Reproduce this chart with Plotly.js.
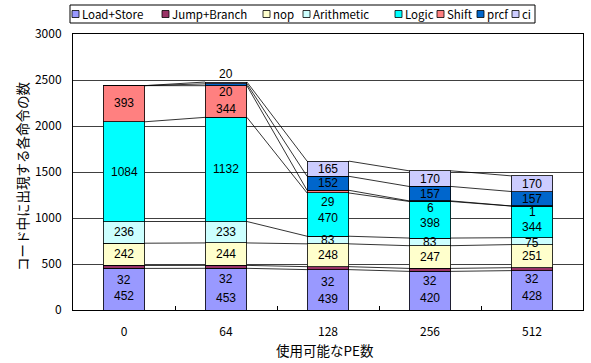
<!DOCTYPE html>
<html>
<head>
<meta charset="utf-8">
<script src="https://cdn.plot.ly/plotly-3.0.1.min.js"></script>
<style>
  html, body { margin: 0; padding: 0; background: #fff; }
  #chart { width: 591px; height: 363px; }
</style>
</head>
<body>
<div id="chart"></div>
<script>
// PE counts along the x axis
const peCounts = ['0', '64', '128', '256', '512'];

// Instruction counts per category, bottom to top of each stack
const loadStore   = [452, 453, 439, 420, 428];
const jumpBranch  = [32, 32, 32, 32, 32];
const nop         = [242, 244, 248, 247, 251];
const arithmetic  = [236, 233, 83, 83, 75];
const logic       = [1084, 1132, 470, 398, 344];
const shift       = [393, 344, 29, 6, 1];
const prcf        = [0, 20, 152, 157, 157];
const ci          = [0, 20, 165, 170, 170];

const seriesNames  = ['Load+Store', 'Jump+Branch', 'nop', 'Arithmetic', 'Logic', 'Shift', 'prcf', 'ci'];
const seriesValues = [loadStore, jumpBranch, nop, arithmetic, logic, shift, prcf, ci];
const seriesColors = ['#9999FF', '#993366', '#FFFFCC', '#CCFFFF', '#00FFFF', '#FF8080', '#0066CC', '#CCCCFF'];

const xTitle = '使用可能なPE数';
const yTitle = 'コード中に出現する各命令の数';

// Vertical nudges (px) for value labels so small segments do not collide
const labelNudge = [
  [-7, -9, -9, -7, -6],
  [-13, -12, -14, -11, -10],
  [0, 0, 0, 0, 0],
  [0, 0, 0, 0, -2],
  [0, 0, -3, -3, -5],
  [1, -7, -10, -7, -6],
  [0, -7, 0, 0, 0],
  [0, 9, 0, 0, 0]
];

// Legend entry left edges (px) inside the legend box
const legendItemX = [72, 162, 263, 303, 395, 437, 477, 512];

const xIdx = peCounts.map((_, i) => i);
const barWidth = 0.41;
const font = 'Noto Sans CJK JP, Noto Sans, sans-serif';
const numFont = 'Liberation Sans, Arial, sans-serif';

// Running stack bases
const tops = [];
let base = xIdx.map(() => 0);
seriesValues.forEach(vals => {
  const t = vals.map((v, i) => base[i] + v);
  tops.push({ bottom: base.slice(), top: t });
  base = t;
});

const traces = seriesValues.map((vals, s) => ({
  type: 'bar',
  name: seriesNames[s],
  x: xIdx,
  y: vals,
  width: barWidth,
  marker: { color: seriesColors[s], line: { color: '#000', width: 0.8 } },
  hoverinfo: 'skip',
  showlegend: false
}));

// Series lines joining the top of each category from one stack to the next
tops.forEach(tp => {
  const lx = [], ly = [];
  for (let i = 0; i < xIdx.length - 1; i++) {
    lx.push(xIdx[i] + barWidth / 2, xIdx[i + 1] - barWidth / 2, null);
    ly.push(tp.top[i], tp.top[i + 1], null);
  }
  traces.push({
    type: 'scatter', mode: 'lines', x: lx, y: ly,
    line: { color: '#000', width: 0.8 },
    hoverinfo: 'skip', showlegend: false, cliponaxis: false
  });
});

// Value labels
const annotations = [];
seriesValues.forEach((vals, s) => {
  vals.forEach((v, i) => {
    if (v === 0) return;
    annotations.push({
      x: xIdx[i], y: (tops[s].bottom[i] + tops[s].top[i]) / 2,
      xref: 'x', yref: 'y', text: String(v), showarrow: false,
      yshift: labelNudge[s][i], borderpad: 0,
      font: { family: numFont, size: 12, color: '#000' }
    });
  });
});

// Hand-built legend row above the plot
const W = 591, H = 363, mL = 73, mR = 8, mT = 34, mB = 53;
const pw = W - mL - mR, ph = H - mT - mB;
const px = v => (v - mL) / pw;
const py = v => 1 + (mT - v) / ph;
const shapes = [{
  type: 'rect', xref: 'paper', yref: 'paper',
  x0: px(70), x1: px(535), y0: py(23), y1: py(5),
  line: { color: '#000', width: 1 }, fillcolor: '#fff'
}];
seriesNames.forEach((name, s) => {
  const x0 = legendItemX[s];
  shapes.push({
    type: 'rect', xref: 'paper', yref: 'paper',
    x0: px(x0), x1: px(x0 + 7), y0: py(17.5), y1: py(10.5),
    line: { color: '#000', width: 0.8 }, fillcolor: seriesColors[s]
  });
  annotations.push({
    xref: 'paper', yref: 'paper', x: px(x0 + 9), y: py(14),
    xanchor: 'left', yanchor: 'middle', text: name, showarrow: false,
    borderpad: 0,
    font: { family: font, size: 11.5, color: '#000' }
  });
});

// Axis titles
annotations.push({
  xref: 'paper', yref: 'paper', x: px(325), y: py(350),
  xanchor: 'center', yanchor: 'middle', text: xTitle, showarrow: false,
  font: { family: font, size: 13.5, color: '#000' }
});
annotations.push({
  xref: 'paper', yref: 'paper', x: px(22), y: py(176),
  xanchor: 'center', yanchor: 'middle', text: yTitle, showarrow: false,
  textangle: -90,
  font: { family: font, size: 13.5, color: '#000' }
});

const layout = {
  width: W, height: H,
  margin: { l: mL, r: mR, t: mT, b: mB, pad: 0 },
  paper_bgcolor: '#fff', plot_bgcolor: '#fff',
  barmode: 'stack',
  showlegend: false,
  font: { family: font, size: 12, color: '#000' },
  xaxis: {
    range: [-0.5, 4.5], tickvals: xIdx, ticktext: peCounts,
    ticks: '', showgrid: false, zeroline: false,
    showline: true, mirror: true, linecolor: '#000', linewidth: 1,
    ticklabelstandoff: 11,
    tickfont: { family: font, size: 12 }
  },
  xaxis2: {
    overlaying: 'x', range: [-0.5, 4.5],
    tickvals: [0.5, 1.5, 2.5, 3.5], ticks: 'inside', ticklen: 4, tickcolor: '#000',
    showticklabels: false, showgrid: false, zeroline: false, showline: false
  },
  yaxis: {
    range: [0, 3000], dtick: 500, ticks: '',
    showgrid: true, gridcolor: '#404040', gridwidth: 1, zeroline: false,
    showline: true, mirror: true, linecolor: '#000', linewidth: 1,
    ticklabelstandoff: 8,
    tickfont: { family: font, size: 12 }
  },
  shapes: shapes,
  annotations: annotations
};

// keep the boundary tick axis alive with an invisible trace
traces.push({ type: 'scatter', x: [0], y: [0], xaxis: 'x2', mode: 'markers',
  marker: { opacity: 0 }, hoverinfo: 'skip', showlegend: false });

Plotly.newPlot('chart', traces, layout, { staticPlot: true, displayModeBar: false });
</script>
</body>
</html>
